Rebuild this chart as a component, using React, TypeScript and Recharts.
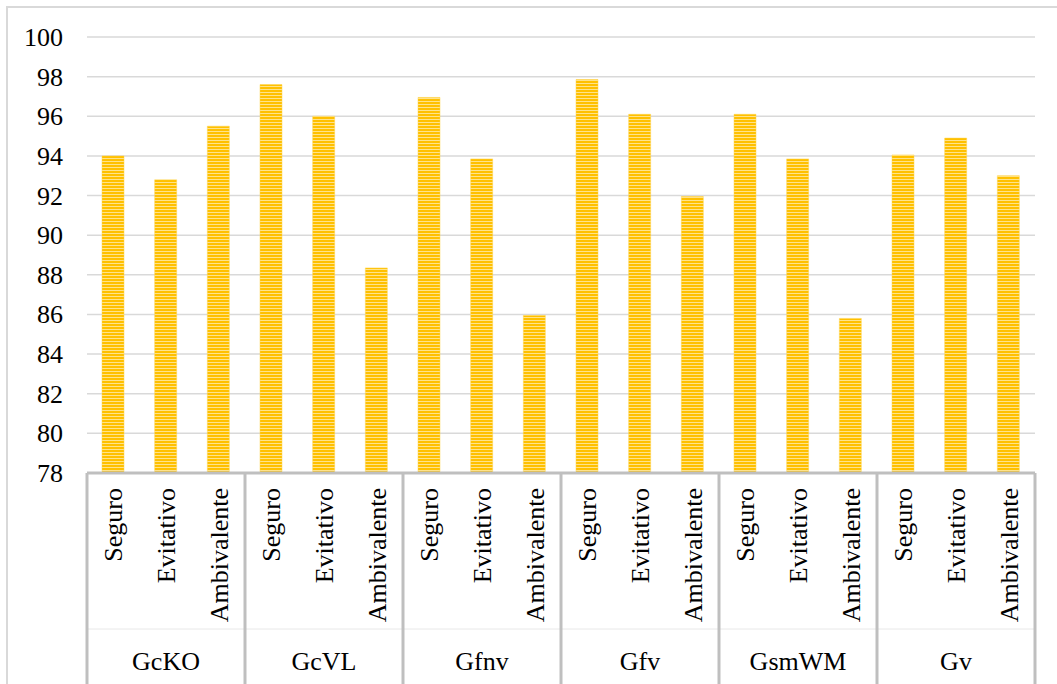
import { BarChart, Bar, XAxis, YAxis, CartesianGrid } from 'recharts'

const groups = ['GcKO', 'GcVL', 'Gfnv', 'Gfv', 'GsmWM', 'Gv']
const categories = ['Seguro', 'Evitativo', 'Ambivalente']

const gcko = [94.0, 92.8, 95.5]
const gcvl = [97.6, 96.0, 88.35]
const gfnv = [96.95, 93.85, 85.95]
const gfv = [97.85, 96.1, 91.95]
const gsmwm = [96.1, 93.85, 85.8]
const gv = [94.05, 94.9, 93.0]

const yTicks = [78, 80, 82, 84, 86, 88, 90, 92, 94, 96, 98, 100]

const seriesByGroup = [gcko, gcvl, gfnv, gfv, gsmwm, gv]

const data = groups.flatMap((g, gi) =>
  categories.map((c, ci) => ({
    key: `${g}-${c}`,
    group: g,
    cat: c,
    value: seriesByGroup[gi][ci],
  }))
)

const W = 1057
const H = 684
const PLOT_LEFT = 87
const PLOT_RIGHT = 1035
const PLOT_TOP = 37
const PLOT_BOTTOM = 473
const BAND = (PLOT_RIGHT - PLOT_LEFT) / data.length
const SERIF = "'Liberation Serif', serif"

const YTick = ({ y, payload }: any) => (
  <text x={PLOT_LEFT - 24} y={y + 9} textAnchor="end" fontFamily={SERIF} fontSize={26} fill="#000">
    {payload.value}
  </text>
)

const XTick = ({ x, payload, index }: any) => {
  const i = index ?? payload.index
  const row = data[i]
  if (!row) return null
  return (
    <g fontFamily={SERIF} fontSize={26} fill="#000">
      <text transform={`translate(${x + 9},${PLOT_BOTTOM + 15}) rotate(-90)`} textAnchor="end">
        {row.cat}
      </text>
      {i % 3 === 0 && (
        <>
          <line
            x1={x - BAND / 2}
            x2={x - BAND / 2 + BAND * 3}
            y1={629}
            y2={629}
            stroke="#E8E8E8"
            strokeWidth={1}
          />
          <line
            x1={x - BAND / 2}
            x2={x - BAND / 2}
            y1={PLOT_BOTTOM}
            y2={H}
            stroke="#BFBFBF"
            strokeWidth={3}
          />
          <text x={x + BAND} y={670} textAnchor="middle">
            {row.group}
          </text>
        </>
      )}
      {i === data.length - 1 && (
        <line
          x1={x + BAND / 2}
          x2={x + BAND / 2}
          y1={PLOT_BOTTOM}
          y2={H}
          stroke="#BFBFBF"
          strokeWidth={3}
        />
      )}
    </g>
  )
}

export default function App() {
  return (
    <div style={{ position: 'relative', width: W, height: H, overflow: 'hidden', background: '#fff', fontFamily: SERIF }}>
      <style>{'body{margin:0;font-family:"Liberation Serif",serif}'}</style>
      <div
        style={{
          position: 'absolute',
          left: 6,
          top: 6,
          width: W + 20,
          height: H + 20,
          border: '2px solid #D9D9D9',
        }}
      />
      <div style={{ position: 'absolute', left: 0, top: 0 }}>
        <BarChart
          width={W}
          height={H}
          data={data}
          style={{ fontFamily: SERIF }}
          margin={{ top: PLOT_TOP, right: W - PLOT_RIGHT, bottom: 0, left: 0 }}
        >
          <defs>
            <pattern id="stripes" width="6" height="3" patternUnits="userSpaceOnUse">
              <rect x="0" y="0" width="6" height="3" fill="#FFC000" />
              <rect x="0" y="2" width="6" height="1" fill="#FFE38A" />
            </pattern>
          </defs>
          <CartesianGrid vertical={false} stroke="#D9D9D9" strokeWidth={1.5} />
          <YAxis
            type="number"
            domain={[78, 100]}
            ticks={yTicks}
            width={PLOT_LEFT}
            axisLine={false}
            tickLine={false}
            tick={<YTick />}
            allowDataOverflow
          />
          <XAxis
            dataKey="key"
            interval={0}
            height={H - PLOT_BOTTOM}
            axisLine={{ stroke: '#BFBFBF', strokeWidth: 3 }}
            tickLine={false}
            tick={<XTick />}
          />
          <Bar
            dataKey="value"
            fill="url(#stripes)"
            stroke="#FFD54F"
            strokeWidth={0.5}
            barSize={22}
            isAnimationActive={false}
          />
        </BarChart>
      </div>
    </div>
  )
}
